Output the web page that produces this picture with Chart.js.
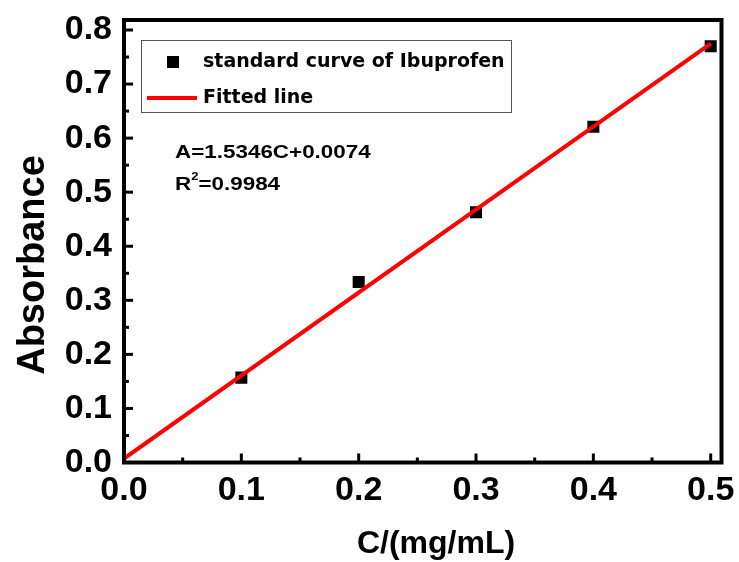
<!DOCTYPE html>
<html lang="en">
<head>
  <meta charset="UTF-8">
  <title>Standard curve of Ibuprofen</title>
  <script src="https://cdn.jsdelivr.net/npm/chart.js"></script>
  <style>
    body { margin: 0; background: #ffffff; }
  </style>
</head>
<body>
  <canvas id="curveChart" width="739" height="562"></canvas>

  <script>
    // Measured standards
    var concentration = [0.1, 0.2, 0.3, 0.4, 0.5];
    var absorbance = [0.157, 0.334, 0.463, 0.621, 0.770];

    // Fitted line end points (A = 1.5346C + 0.0074)
    var fitC = [0.0, 0.5];
    var fitA = [0.0074, 0.7747];

    // Axis ticks
    var xTicks = [0.0, 0.1, 0.2, 0.3, 0.4, 0.5];
    var yTicks = [0.0, 0.1, 0.2, 0.3, 0.4, 0.5, 0.6, 0.7, 0.8];

    var equationText = 'A=1.5346C+0.0074';
    var r2Value = '=0.9984';

    var FONT = '"Liberation Sans", Arial, sans-serif';

    function pairs(xs, ys) {
      return xs.map(function (x, i) { return { x: x, y: ys[i] }; });
    }

    // text drawn slightly wider than the font, like the rest of the figure
    function wideText(ctx, text, x, y, sx) {
      ctx.save();
      ctx.translate(x, y);
      ctx.scale(sx, 1);
      ctx.fillText(text, 0, 0);
      var w = ctx.measureText(text).width * sx;
      ctx.restore();
      return w;
    }

    // frame, inward tick marks, legend box and fit equation
    var decor = {
      id: 'decor',
      afterDraw: function (chart) {
        var ctx = chart.ctx;
        var a = chart.chartArea;
        var xs = chart.scales.x, ys = chart.scales.y;
        ctx.save();
        ctx.strokeStyle = '#000';
        ctx.lineWidth = 3;
        ctx.lineCap = 'butt';

        // major and minor ticks on the bottom axis
        for (var i = 1; i < xTicks.length; i++) {
          var px = xs.getPixelForValue(xTicks[i]);
          ctx.beginPath(); ctx.moveTo(px, a.bottom); ctx.lineTo(px, a.bottom - 9); ctx.stroke();
          var mx = xs.getPixelForValue((xTicks[i] + xTicks[i - 1]) / 2);
          ctx.beginPath(); ctx.moveTo(mx, a.bottom); ctx.lineTo(mx, a.bottom - 5); ctx.stroke();
        }
        // major and minor ticks on the left axis
        for (var j = 1; j < yTicks.length; j++) {
          var py = ys.getPixelForValue(yTicks[j]);
          ctx.beginPath(); ctx.moveTo(a.left, py); ctx.lineTo(a.left + 9, py); ctx.stroke();
          var my = ys.getPixelForValue((yTicks[j] + yTicks[j - 1]) / 2);
          ctx.beginPath(); ctx.moveTo(a.left, my); ctx.lineTo(a.left + 5, my); ctx.stroke();
        }

        // plot frame
        ctx.lineWidth = 4;
        ctx.strokeRect(a.left, a.top, a.right - a.left, a.bottom - a.top);

        // legend
        ctx.lineWidth = 1;
        ctx.strokeStyle = '#555';
        ctx.strokeRect(141.5, 40.5, 370, 72);
        ctx.fillStyle = '#000';
        ctx.fillRect(167, 56, 12, 12);
        ctx.strokeStyle = '#ff0000';
        ctx.lineWidth = 4;
        ctx.beginPath(); ctx.moveTo(147, 98); ctx.lineTo(197, 98); ctx.stroke();
        ctx.fillStyle = '#000';
        ctx.textBaseline = 'middle';
        ctx.textAlign = 'left';
        ctx.font = 'bold 19px "DejaVu Sans", sans-serif';
        ctx.fillText('standard curve of Ibuprofen', 203, 62);
        ctx.fillText('Fitted line', 203, 98);

        // fit equation
        var sx = 1.18;
        ctx.font = 'bold 19px ' + FONT;
        ctx.textBaseline = 'alphabetic';
        wideText(ctx, equationText, 175, 158, sx);
        var rw = wideText(ctx, 'R', 175, 190, sx);
        ctx.font = 'bold 11px ' + FONT;
        var sw = wideText(ctx, '2', 175 + rw, 180, sx);
        ctx.font = 'bold 19px ' + FONT;
        wideText(ctx, r2Value, 175 + rw + sw, 190, sx);

        // axis titles
        ctx.textAlign = 'center';
        ctx.font = 'bold 32px ' + FONT;
        ctx.fillText('C/(mg/mL)', 436, 553);
        ctx.font = 'bold 38px ' + FONT;
        ctx.save();
        ctx.translate(44, 265);
        ctx.rotate(-Math.PI / 2);
        ctx.fillText('Absorbance', 0, 0);
        ctx.restore();
        ctx.restore();
      }
    };

    var ctx = document.getElementById('curveChart').getContext('2d');
    var curveChart = new Chart(ctx, {
      type: 'scatter',
      data: {
        datasets: [{
          label: 'Fitted line',
          type: 'line',
          data: pairs(fitC, fitA),
          borderColor: '#ff0000',
          borderWidth: 4,
          pointRadius: 0,
          fill: false,
          order: 0
        }, {
          label: 'standard curve of Ibuprofen',
          data: pairs(concentration, absorbance),
          pointStyle: 'rect',
          pointRadius: 8.5,
          backgroundColor: '#000',
          borderColor: '#000',
          borderWidth: 0,
          order: 1
        }]
      },
      options: {
        responsive: false,
        animation: false,
        devicePixelRatio: 1,
        layout: { padding: { top: 20, right: 17.5, left: 0, bottom: 0 } },
        plugins: {
          legend: { display: false },
          tooltip: { enabled: false }
        },
        scales: {
          x: {
            type: 'linear',
            min: 0,
            max: 0.5092,
            afterBuildTicks: function (s) { s.ticks = xTicks.map(function (v) { return { value: v }; }); },
            afterFit: function (s) { s.height = 99.5; s.paddingLeft = 0; s.paddingRight = 0; },
            grid: { display: false, drawTicks: false },
            border: { display: false },
            ticks: {
              color: '#000',
              padding: 8,
              maxRotation: 0,
              font: { family: FONT, size: 34, weight: 'bold' },
              callback: function (v) { return v.toFixed(1); }
            }
          },
          y: {
            type: 'linear',
            min: 0,
            max: 0.8185,
            afterBuildTicks: function (s) { s.ticks = yTicks.map(function (v) { return { value: v }; }); },
            afterFit: function (s) { s.width = 124; s.paddingTop = 0; s.paddingBottom = 0; },
            grid: { display: false, drawTicks: false },
            border: { display: false },
            ticks: {
              color: '#000',
              padding: 12,
              font: { family: FONT, size: 34, weight: 'bold' },
              callback: function (v) { return v.toFixed(1); }
            }
          }
        }
      },
      plugins: [decor]
    });
  </script>
</body>
</html>
